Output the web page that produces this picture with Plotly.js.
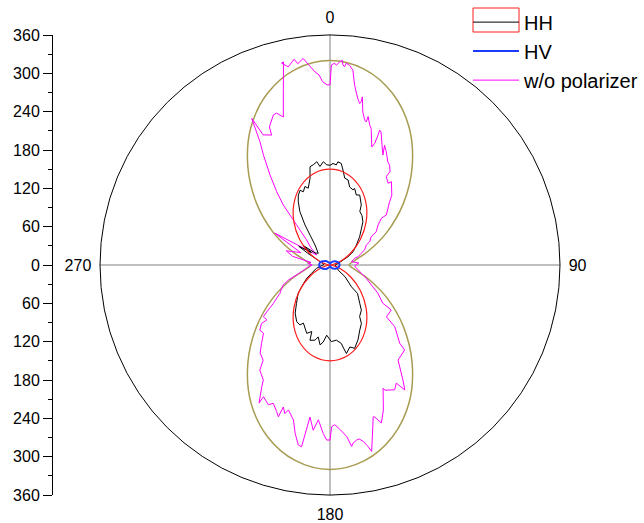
<!DOCTYPE html>
<html>
<head>
<meta charset="utf-8">
<script src="https://cdn.plot.ly/plotly-3.0.1.min.js"></script>
<style>html,body{margin:0;padding:0;background:#fff;}#chart{width:644px;height:523px;}</style>
</head>
<body>
<div id="chart"></div>
<script>
// ---- angular / radial ticks ----
const angleTickVals = [0, 90, 180, 270];
const angleTickText = ['0', '90', '180', '270'];
const radialTickVals = [-360, -300, -240, -180, -120, -60, 0, 60, 120, 180, 240, 300, 360];
const radialTickText = ['360', '300', '240', '180', '120', '60', '0', '60', '120', '180', '240', '300', '360'];
const radialMinorVals = [-330, -270, -210, -150, -90, -30, 30, 90, 150, 210, 270, 330];
const radialExtent = [-360, 360];

// ---- w/o polarizer (magenta) ----
const woTheta = [
  0, 0.4, 1.3, 1.8, 2.7, 3.4, 3.7, 4.2, 4.6, 5.6,
  6.2, 6.7, 7.8, 8.6, 9.5, 10.4, 10.8, 10.9, 12.1, 13.5,
  14.2, 14.4, 15.8, 16.8, 19.5, 20.2, 20.3, 20.2, 21, 23.4,
  25.7, 24.5, 26.4, 29.3, 30.8, 32.7, 32.5, 35.4, 36.4, 41.5,
  43.3, 48.4, 47.7, 50.2, 54.3, 55.6, 59.6, 61.1, 66.6, 69.5,
  73.5, 74.8, 81, 86, 90, 93.9, 99, 104.9, 110, 115.8,
  120.5, 125.9, 126.3, 132.6, 133.6, 138.3, 138.7, 144.4, 147.6, 149.1,
  150.7, 152.6, 156.3, 156.7, 159.8, 162, 163.6, 164.1, 167.4, 168.2,
  169.3, 170.5, 171.3, 172.6, 173.2, 174.4, 176.3, 178.3, 179.4, 180,
  181.1, 182.3, 184.3, 185.8, 187.5, 188.9, 190, 191.7, 193.3, 196,
  196.9, 198.2, 198.8, 200, 202.3, 203.8, 206.8, 207.2, 209.3, 210.1,
  213.7, 215.1, 218.4, 221.1, 224.3, 227.1, 229.5, 229, 232.2, 233.9,
  235.9, 240.5, 246.8, 250.2, 254.7, 260, 265.5, 270, 274, 278,
  283, 288, 293, 297, 300, 303, 307, 312, 317, 320.2,
  321.3, 322.1, 324, 326.3, 328.8, 330.4, 331.9, 332.8, 335.8, 336.3,
  339.3, 340.6, 342.5, 345.1, 347.1, 346.5, 348.1, 350.1, 350.9, 352.6,
  353.8, 355.6, 356.7, 357.7, 359.1, 360
];
const woR = [
  282, 313, 316, 313, 318, 321, 314, 311, 317, 314,
  310, 307, 284, 274, 264, 257, 260, 268, 245, 233,
  231, 240, 228, 223, 196, 203, 217, 225, 223, 205,
  191, 206, 198, 185, 182, 174, 164, 157, 162, 146,
  136, 118, 109, 98, 89, 78, 72, 65, 59, 52,
  46, 40, 34, 45, 40, 39, 44, 51, 60, 72,
  87, 102, 119, 120, 140, 164, 177, 183, 213, 228,
  212, 220, 214, 210, 242, 260, 248, 247, 299, 290,
  281, 276, 277, 281, 286, 270, 259, 250, 253, 274,
  274, 264, 243, 260, 240, 288, 286, 269, 249, 236,
  243, 234, 251, 244, 234, 239, 231, 243, 218, 208,
  198, 182, 176, 163, 149, 150, 141, 131, 132, 120,
  107, 90, 80, 69, 51, 40, 34, 28, 35, 30,
  60, 72, 50, 70, 100, 45, 26, 40, 54, 82,
  100, 119, 142, 169, 201, 222, 260, 229, 223, 236,
  251, 252, 243, 284, 326, 325, 317, 327, 319, 326,
  316, 303, 298, 287, 282, 282
];

// ---- HH (black) ----
const hhTheta = [
  0, 1.7, 3.6, 4.4, 6.3, 7.8, 9.6, 12, 14.1, 17,
  17.8, 20.6, 23, 27.5, 29.1, 33, 37.3, 40.5, 46.4, 52.7,
  60, 65.3, 69, 75, 82, 90, 98, 108, 122, 128,
  135.5, 136, 142.2, 145.2, 150.1, 151.8, 155.4, 159.5, 163.5, 166.4,
  169.5, 171, 171.8, 175.2, 179, 182.7, 185, 187.1, 189.3, 191.3,
  194.9, 195.3, 198.8, 204.6, 206.6, 210.4, 215.9, 221, 228.2, 232.5,
  240.3, 245.6, 256, 264, 272, 282, 292, 298, 301, 304,
  306, 309, 315, 323.1, 326.3, 328, 330.6, 333.4, 335.6, 338.2,
  340, 342.3, 344.2, 347, 348.5, 350.5, 352.7, 354.2, 356.3, 358.1,
  360
];
const hhR = [
  156, 159, 157, 162, 160, 150, 138, 136, 126, 123,
  126, 117, 119, 106, 96, 92, 85, 76, 64, 52,
  42, 31, 22, 16, 11, 8, 9, 11, 15, 30,
  48, 62, 76, 86, 93, 104, 112, 125, 136, 132,
  141, 130, 124, 118, 120, 110, 121, 126, 114, 120,
  122, 108, 113, 100, 105, 103, 93, 80, 67, 56,
  42, 32, 22, 14, 10, 12, 20, 40, 57, 35,
  52, 30, 26, 39, 56, 74, 96, 111, 120, 126,
  122, 129, 125, 139, 157, 159, 163, 155, 162, 157,
  156
];

// ---- HV (blue) ----
const hvTheta = [0, 15, 30, 45, 60, 75, 90, 105, 120, 135, 150, 165, 180,
                 195, 210, 225, 240, 255, 270, 285, 300, 315, 330, 345, 360];
const hvR = [2, 3, 5, 8, 11, 14, 15, 14, 11, 8, 5, 3, 2,
             3, 5, 9, 12, 16, 17, 16, 12, 9, 5, 3, 2];

// ---- fitted curves (read at 10 deg steps) ----
const fitTheta = [0, 10, 20, 30, 40, 50, 60, 70, 80, 90, 100, 110, 120, 130, 140, 150, 160, 170, 180,
                  190, 200, 210, 220, 230, 240, 250, 260, 270, 280, 290, 300, 310, 320, 330, 340, 350, 360];
const fitHHR = [150, 145.5, 132.4, 112.5, 88, 62, 37.5, 17.5, 4.5, 0, 4.5, 17.5, 37.5, 62, 88, 112.5, 132.4, 145.5, 150,
                145.5, 132.4, 112.5, 88, 62, 37.5, 17.5, 4.5, 0, 4.5, 17.5, 37.5, 62, 88, 112.5, 132.4, 145.5, 150];
const fitWoR = [320, 311, 286, 248, 200, 150, 103, 64, 39, 30, 39, 64, 103, 150, 200, 248, 286, 311, 320,
                311, 286, 248, 200, 150, 103, 64, 39, 30, 39, 64, 103, 150, 200, 248, 286, 311, 320];

const FONT = 'Arial, "Liberation Sans", sans-serif';

const traces = [
  {type: 'scatterpolar', theta: fitTheta, r: fitWoR, mode: 'lines', line: {color: '#a89c52', width: 1.5, shape: 'spline'},
   showlegend: false, hoverinfo: 'skip'},
  {type: 'scatterpolar', name: 'w/o polarizer', theta: woTheta, r: woR, mode: 'lines', line: {color: '#ff00ff', width: 1},
   legendrank: 3},
  {type: 'scatterpolar', name: 'HH', theta: hhTheta, r: hhR, mode: 'lines', line: {color: '#000000', width: 1},
   legendrank: 1},
  {type: 'scatterpolar', theta: fitTheta, r: fitHHR, mode: 'lines', line: {color: '#ff1a1a', width: 1.2, shape: 'spline'},
   showlegend: false, hoverinfo: 'skip'},
  {type: 'scatterpolar', name: 'HV', theta: hvTheta, r: hvR, mode: 'lines', line: {color: '#1a3cff', width: 2, shape: 'spline'},
   legendrank: 2},
  // carries the left radial scale
  {type: 'scatter', x: [0, 0], y: radialExtent, mode: 'markers', marker: {opacity: 0}, showlegend: false, hoverinfo: 'skip'}
];

const layout = {
  width: 644, height: 523,
  margin: {l: 0, r: 0, t: 0, b: 0},
  paper_bgcolor: '#ffffff', plot_bgcolor: 'rgba(0,0,0,0)',
  font: {family: FONT, size: 16, color: '#000'},
  showlegend: true,
  legend: {x: 0.727, y: 0.995, xanchor: 'left', yanchor: 'top', font: {family: FONT, size: 20, color: '#000'},
           bgcolor: 'rgba(0,0,0,0)', itemwidth: 46, tracegroupgap: 0, traceorder: 'normal'},
  polar: {
    domain: {x: [100 / 644, 560 / 644], y: [28 / 523, 488 / 523]},
    bgcolor: 'rgba(0,0,0,0)',
    radialaxis: {range: [0, 360], visible: false},
    angularaxis: {rotation: 90, direction: 'clockwise', tickmode: 'array', tickvals: angleTickVals, ticktext: angleTickText,
                  showline: true, linecolor: '#000', linewidth: 1, showgrid: true, gridcolor: '#808080', gridwidth: 1,
                  ticks: 'outside', ticklen: 5, tickcolor: 'rgba(0,0,0,0)',
                  tickfont: {family: FONT, size: 16, color: '#000'}}
  },
  xaxis: {domain: [53 / 644, 0.99], range: [0, 1], visible: false, fixedrange: true},
  yaxis: {anchor: 'x', domain: [28 / 523, 488 / 523], range: radialExtent, tickmode: 'array', tickvals: radialTickVals, ticktext: radialTickText,
          ticks: 'outside', ticklen: 9, tickwidth: 1, tickcolor: '#000', showline: true, linecolor: '#000', linewidth: 1,
          showgrid: false, zeroline: false, tickfont: {family: FONT, size: 16, color: '#000'},
          minor: {tickmode: 'array', tickvals: radialMinorVals, ticks: 'outside', ticklen: 4, tickcolor: '#000', showgrid: false}},
  shapes: [
    {type: 'rect', xref: 'paper', yref: 'paper', x0: 473 / 644, x1: 519 / 644, y0: 1 - 32 / 523, y1: 1 - 8 / 523,
     line: {color: '#ff2020', width: 1}, fillcolor: 'rgba(0,0,0,0)'}
  ]
};

Plotly.newPlot('chart', traces, layout, {staticPlot: true, displayModeBar: false});
</script>
</body>
</html>
